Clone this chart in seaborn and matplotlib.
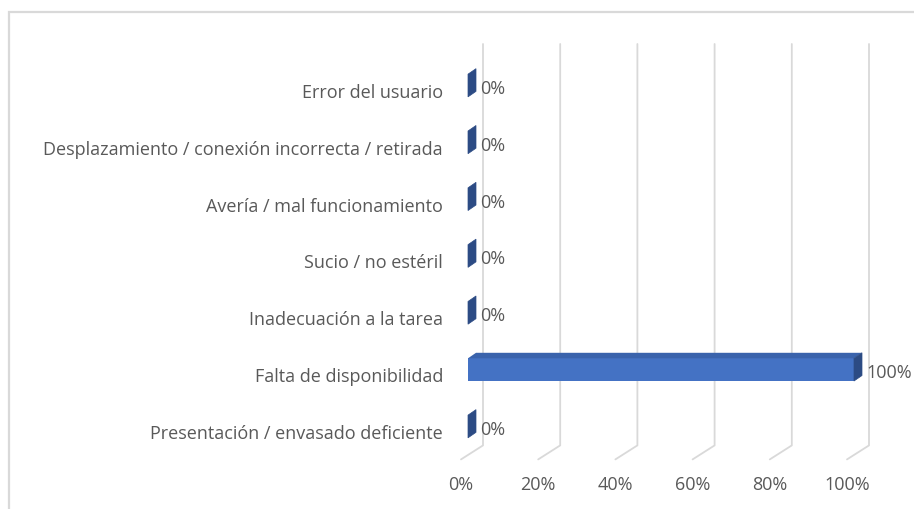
import matplotlib
matplotlib.use("Agg")
import matplotlib.pyplot as plt
import seaborn as sns
from matplotlib.lines import Line2D
from matplotlib.patches import Polygon, Rectangle
from matplotlib.transforms import IdentityTransform, ScaledTranslation

# Incident causes (top to bottom) and their share of reports
categories = [
    "Error del usuario",
    "Desplazamiento / conexión incorrecta / retirada",
    "Avería / mal funcionamiento",
    "Sucio / no estéril",
    "Inadecuación a la tarea",
    "Falta de disponibilidad",
    "Presentación / envasado deficiente",
]
percentages = [0, 0, 0, 0, 0, 100, 0]
value_labels = ["0%", "0%", "0%", "0%", "0%", "100%", "0%"]
tick_values = [0, 20, 40, 60, 80, 100]
tick_labels = ["0%", "20%", "40%", "60%", "80%", "100%"]

W, H, DPI = 914, 510, 100
TEXT = "#595959"
GRID = "#D9D9D9"
FRONT = "#4472C4"
TOP = "#3A63AC"
SIDE = "#2C4B84"
FS = 13

sns.set_theme(style="white")
plt.rcParams["font.family"] = ["Open Sans", "DejaVu Sans"]

fig = plt.figure(figsize=(W / DPI, H / DPI), dpi=DPI)

# plot area in pixels (image coordinates, origin top-left)
left_px, right_px = 461, 847
top_px, bottom_px = 62.6, 460.4
ax = fig.add_axes([left_px / W, 1 - bottom_px / H,
                   (right_px - left_px) / W, (bottom_px - top_px) / H])

sns.barplot(x=percentages, y=categories, orient="h", width=0.40,
            color=FRONT, saturation=1, ax=ax, zorder=3)
ax.set_xlim(0, 100)
ax.set_ylim(len(categories) - 0.5, -0.5)
for s in ax.spines.values():
    s.set_visible(False)
ax.set_xlabel("")
ax.set_ylabel("")
ax.set_xticks(tick_values)
ax.set_xticklabels(tick_labels)
ax.tick_params(axis="x", length=0, pad=11.5, labelsize=FS, labelcolor=TEXT)
ax.tick_params(axis="y", length=0, pad=13, labelsize=FS, labelcolor=TEXT)
ax.grid(False)

# 3-D look: bars sit halfway into the floor depth
bar_shift = ScaledTranslation(7 / DPI, 4.5 / DPI, fig.dpi_scale_trans)
depth = (8, 5.5)  # bar depth in pixels (x, y up)
fig.canvas.draw()
for p in ax.patches:
    tr = ax.transData + bar_shift
    p.set_transform(tr)
    p.set_clip_on(False)
    p.set_edgecolor("none")
    x0, y0 = p.get_x(), p.get_y()
    w, h = p.get_width(), p.get_height()
    tl = tr.transform((x0, y0))
    trr = tr.transform((x0 + w, y0))
    br = tr.transform((x0 + w, y0 + h))
    # with inverted y, y0 is the upper edge
    top_face = [tl, trr, (trr[0] + depth[0], trr[1] + depth[1]),
                (tl[0] + depth[0], tl[1] + depth[1])]
    side_face = [trr, br, (br[0] + depth[0], br[1] + depth[1]),
                 (trr[0] + depth[0], trr[1] + depth[1])]
    if w > 0:
        ax.add_artist(Polygon(top_face, closed=True, facecolor=TOP,
                              edgecolor="none", transform=IdentityTransform(),
                              zorder=4, clip_on=False))
    ax.add_artist(Polygon(side_face, closed=True, facecolor=SIDE,
                          edgecolor=SIDE, lw=0.5, transform=IdentityTransform(),
                          zorder=4, clip_on=False))

# gridlines: back wall verticals folding down to the front floor
y_floor = H - bottom_px
wall_dx, wall_dy = 22, 14
wall_top = H - 45
for t in tick_values:
    px = ax.transData.transform((t, 0))[0]
    ax.add_artist(Line2D([px, px + wall_dx, px + wall_dx],
                         [y_floor, y_floor + wall_dy, wall_top],
                         color=GRID, lw=1.3, transform=IdentityTransform(),
                         zorder=1, clip_on=False))

# value labels
for i, (v, lab) in enumerate(zip(percentages, value_labels)):
    ax.annotate(lab, xy=(v, i), xytext=(19, 2), textcoords="offset pixels",
                ha="left", va="center", fontsize=FS, color=TEXT,
                annotation_clip=False, zorder=5)

# chart frame
fig.add_artist(Rectangle((9 / W, -0.1), 2, 497 / H + 0.1,
                         transform=fig.transFigure, fill=False,
                         edgecolor=GRID, lw=1.6))

fig.savefig("out.png", dpi=DPI, facecolor="white")
